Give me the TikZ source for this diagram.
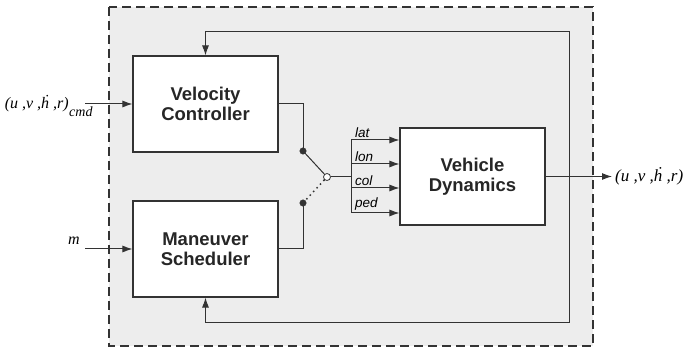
\documentclass[tikz,border=0pt]{standalone}
\usepackage{fontspec}
\setmainfont{Liberation Serif}
\setsansfont{Liberation Sans}
\usepackage{tikz}
\usetikzlibrary{arrows.meta}
\usetikzlibrary{calc}
\definecolor{boxgray}{HTML}{EDEDED}
\definecolor{linegray}{HTML}{333333}
\tikzset{blockbox/.style={draw=linegray, fill=white, line width=1.1pt, minimum width=145pt, minimum height=96pt, align=center, font=\sffamily\bfseries\fontsize{18.5}{20}\selectfont, text=black!85}}
\tikzset{sig/.style={draw=linegray, line width=1pt, -{Latex[length=10pt,width=7pt]}}}
\tikzset{wire/.style={draw=linegray, line width=1pt}}
\tikzset{chlabel/.style={anchor=south west, inner sep=1pt, font=\sffamily\itshape\fontsize{13.5}{13.5}\selectfont}}
\tikzset{sglabel/.style={inner sep=0pt, font=\itshape\fontsize{16}{16}\selectfont}}
\tikzset{swdot/.style={circle, draw=linegray, fill=linegray, inner sep=0pt, minimum width=6.5pt}}
\tikzset{swopen/.style={circle, draw=linegray, fill=white, line width=0.8pt, inner sep=0pt, minimum width=7pt}}

\begin{document}
\begin{tikzpicture}[x=1pt, y=-1pt]
\useasboundingbox (0,0) rectangle (689,350);

% outer dashed frame
\draw[fill=boxgray, draw=linegray, line width=1.3pt, dash pattern=on 9pt off 5pt] (109,7) rectangle (593,346);

\node[blockbox] (vc) at (205.5,104) {Velocity\\Controller};
\node[blockbox] (ms) at (205.5,249) {Maneuver\\Scheduler};
\node[blockbox, minimum height=97pt] (vd) at (472.5,176.5) {Vehicle\\Dynamics};

% inputs
\coordinate (inA) at (85,104);
\coordinate (inB) at (85,249);
\draw[sig] (inA) -- (vc.west);
\draw[sig] (inB) -- (ms.west);
\node[sglabel, anchor=base east] (cmdlab) at (69,109) {(u ,v ,ḣ ,r)};
\node[anchor=base west, inner sep=0pt, font=\itshape\fontsize{14}{14}\selectfont] (cmdsub) at (cmdlab.base east) {\raisebox{-8pt}{cmd}};
\node[sglabel] (mlab) at (74,241) {m};

% switch
\node[swdot] (swA) at (303,151) {};
\node[swdot] (swB) at (303,203) {};
\node[swopen] (swC) at (327,177) {};
\draw[wire] (vc.east) -| (swA.center);
\draw[wire] (ms.east) -| (swB.center);
\draw[wire] (swA.center) -- (swC);
\draw[wire, line width=1.5pt, dash pattern=on 1.5pt off 3.5pt] (swB.center) -- (swC);

% channel bus
\coordinate (busC) at (351,177);
\coordinate (busT) at (351,140);
\coordinate (busB) at (351,213);
\draw[wire] (swC) -- (busC);
\draw[wire] (busT) -- (busB);
\foreach \y/\lab in {140/lat, 164/lon, 188/col, 213/ped} {
  \draw[sig] (351,\y) -- (vd.west |- 0,\y);
  \node[chlabel] (ch\lab) at (354,\y-1.5) {\lab};
}

% output and feedback
\coordinate (fbJ) at (569,176.5);
\coordinate (outE) at (612,176.5);
\draw[sig] (vd.east |- fbJ) -- (outE);
\node[sglabel, anchor=west, font=\itshape\fontsize{17}{17}\selectfont] (outlab) at (615,176.5) {(u ,v ,ḣ ,r)};
\draw[sig] (fbJ) -- (569,32) -| (vc.north);
\draw[sig] (fbJ) -- (569,322) -| (ms.south);

\end{tikzpicture}
\end{document}
